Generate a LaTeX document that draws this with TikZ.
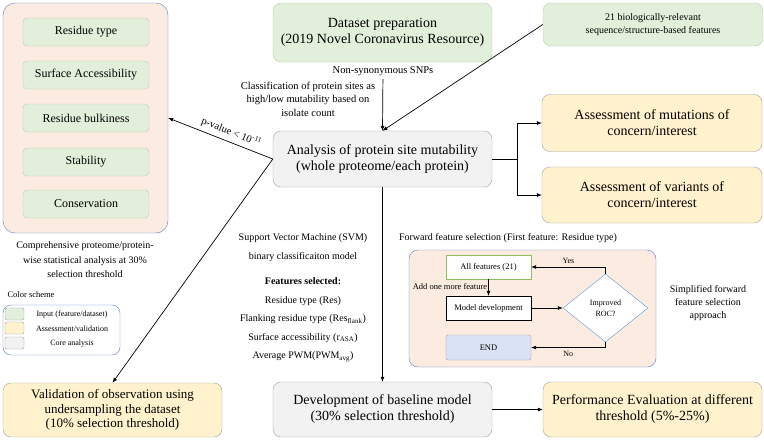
\documentclass[tikz,border=0pt]{standalone}
\usepackage{fontspec}
\setmainfont{Liberation Serif}
\usetikzlibrary{arrows.meta,positioning,shapes.geometric}

\definecolor{ingreen}{HTML}{E2EFDA}
\definecolor{greenline}{HTML}{B9CDAE}
\definecolor{assyellow}{HTML}{FFF2CC}
\definecolor{coregray}{HTML}{F2F2F2}
\definecolor{boxline}{HTML}{A0A0A0}
\definecolor{peach}{HTML}{FCEBE1}
\definecolor{frameblue}{HTML}{5A7DBF}
\definecolor{endblue}{HTML}{DAE3F3}
\definecolor{roc}{HTML}{5B9BD5}
\definecolor{allgreen}{HTML}{8CBF5A}

\begin{document}
\begin{tikzpicture}[x=1pt,y=-1pt,
                block/.style={draw=boxline, rounded corners=8pt, align=center, minimum width=219pt, minimum height=55pt, font=\fontsize{14}{16}\selectfont},
                input/.style={block, fill=ingreen, draw=greenline},
                assess/.style={block, fill=assyellow},
                core/.style={block, fill=coregray},
                feat/.style={draw=greenline, fill=ingreen, rounded corners=4pt, minimum width=126pt, minimum height=28pt, font=\fontsize{12}{14}\selectfont},
                frame/.style={draw=frameblue, fill=peach, rounded corners=12pt},
                flow/.style={draw, minimum width=85pt, minimum height=24pt, fill=white, font=\fontsize{8.5}{10}\selectfont},
                swatch/.style={draw=boxline, rounded corners=2pt, minimum width=19pt, minimum height=12pt},
                note/.style={align=center, font=\fontsize{10.5}{13.5}\selectfont},
                arrow/.style={-{Latex[length=5pt,width=4pt]}, line width=0.7pt}
            ]

            \useasboundingbox (0,0) rectangle (764,440);

            % features tested statistically
            \node[frame, minimum width=165pt, minimum height=230pt] (featbox) at (85.5,118) {};
            \node[feat] (restype) at (86,32) {Residue type};
            \node[feat] (surface) at (86,75) {Surface Accessibility};
            \node[feat] (bulk) at (86,118) {Residue bulkiness};
            \node[feat] (stab) at (86,162) {Stability};
            \node[feat] (cons) at (86,204) {Conservation};
            \node[align=center, font=\fontsize{10}{14.5}\selectfont] (comp) at (85,260) {Comprehensive proteome/protein-\\wise statistical analysis at 30\%\\selection threshold};

            % colour legend
            \node[anchor=west, font=\fontsize{8.5}{10}\selectfont] (schemetitle) at (4,295) {Color scheme};
            \node[draw=frameblue, rounded corners=8pt, minimum width=117pt, minimum height=50pt] (legend) at (61.5,330) {};
            \node[swatch, fill=ingreen] (swin) at (14.5,314) {};
            \node[swatch, fill=assyellow] (swas) at (14.5,328) {};
            \node[swatch, fill=coregray] (swco) at (14.5,343) {};
            \node[font=\fontsize{8}{9}\selectfont] (lgin) at (72,315) {Input (feature/dataset)};
            \node[font=\fontsize{8}{9}\selectfont] (lgas) at (72,329) {Assessment/validation};
            \node[font=\fontsize{8}{9}\selectfont] (lgco) at (72,344) {Core analysis};

            % main boxes
            \node[input, minimum height=59pt] (dataset) at (382.5,32.5) {Dataset preparation\\(2019 Novel Coronavirus Resource)};
            \node[input, minimum width=220pt, minimum height=43pt, font=\fontsize{10}{12.5}\selectfont] (feat21) at (653,24.5) {21 biologically-relevant\\sequence/structure-based features};
            \node[core, minimum height=56pt] (analysis) at (382.5,159) {Analysis of protein site mutability\\(whole proteome/each protein)};
            \node[assess, minimum width=220pt, minimum height=57pt] (mutations) at (652,123) {Assessment of mutations of\\concern/interest};
            \node[assess, minimum width=220pt, minimum height=56pt] (variants) at (652,195) {Assessment of variants of\\concern/interest};
            \node[assess, minimum height=54pt, font=\fontsize{13}{14.5}\selectfont] (validation) at (112.5,410) {Validation of observation using\\undersampling the dataset\\(10\% selection threshold)};
            \node[core] (baseline) at (382.5,409.5) {Development of baseline model\\(30\% selection threshold)};
            \node[assess] (perf) at (652.5,409.5) {Performance Evaluation at different\\threshold (5\%-25\%)};

            \node[font=\fontsize{10.5}{12}\selectfont] (snps) at (383,71) {Non-synonymous SNPs};
            \node[note] (classif) at (308,99) {Classification of protein sites as\\high/low mutability based on\\isolate count};

            \node[align=center, font=\fontsize{10}{18.5}\selectfont] (svm) at (303,298) {Support Vector Machine (SVM)\\binary classificaiton model\\[7pt]\textbf{Features selected:}\\Residue type (Res)\\Flanking residue type (Res$_{\mathrm{flank}}$)\\Surface accessibility (r$_{\mathrm{ASA}}$)\\Average PWM(PWM$_{\mathrm{avg}}$)};

            % forward feature selection
            \node[font=\fontsize{10}{12}\selectfont] (fwdtitle) at (508,238) {Forward feature selection (First feature: Residue type)};
            \node[frame, rounded corners=9pt, minimum width=247pt, minimum height=117pt] (fwdbox) at (532.5,308.5) {};
            \node[flow, draw=allgreen] (allfeat) at (488.5,267) {All features (21)};
            \node[flow] (modeldev) at (488.5,308) {Model development};
            \node[flow, draw=boxline, fill=endblue, rounded corners=2pt, minimum height=25pt] (endbox) at (488.5,347.5) {END};
            \node[diamond, draw=roc, fill=white, minimum width=85pt, minimum height=68pt, inner sep=0pt, align=center, font=\fontsize{8}{11}\selectfont] (roc) at (605.5,308) {Improved\\ROC?};
            \node[align=center, font=\fontsize{10}{13}\selectfont] (simplified) at (708,303) {Simplified forward\\feature selection\\approach};

            % connectors
            \draw[arrow] (snps) -- (analysis.north);
            \draw[arrow] (feat21.west) -- (analysis.north);
            \draw[arrow] (analysis.west) -- node[sloped, above=3pt, pos=0.43, inner sep=1pt, font=\fontsize{10.5}{12}\selectfont] {p-value < 10\textsuperscript{-11}} (featbox.east);
            \draw[arrow] (analysis.west) -- (validation.north);
            \draw[arrow] (analysis.south) -- (baseline.north);
            \draw[arrow] (baseline) -- (perf);
            \coordinate (split) at (517,159);
            \draw[line width=0.7pt] (analysis.east) -- (split);
            \draw[arrow] (split) |- (mutations.west);
            \draw[arrow] (split) |- (variants.west);

            \draw[arrow] (allfeat) -- node[left, pos=0.45, font=\fontsize{8.5}{10}\selectfont, inner sep=1pt] {Add one more feature} (modeldev);
            \draw[arrow] (modeldev) -- (roc);
            \draw[arrow] (roc.north) |- node[pos=0.75, above, font=\fontsize{8}{9}\selectfont] {Yes} (allfeat.east);
            \draw[arrow] (roc.south) |- node[pos=0.75, below, font=\fontsize{8}{9}\selectfont] {No} (endbox.east);

        \end{tikzpicture}
\end{document}
